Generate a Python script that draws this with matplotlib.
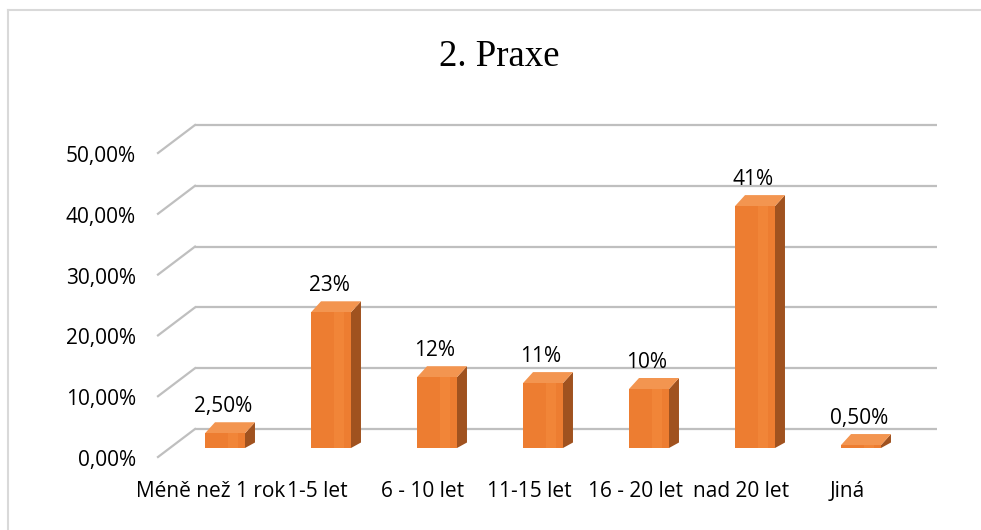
import matplotlib
matplotlib.use("Agg")
import matplotlib.pyplot as plt
from matplotlib.patches import Polygon
from matplotlib.lines import Line2D
from matplotlib.transforms import offset_copy

categories = ["Méně než 1 rok", "1-5 let", "6 - 10 let", "11-15 let",
              "16 - 20 let", "nad 20 let", "Jiná"]
values = [2.5, 23, 12, 11, 10, 41, 0.5]
value_labels = ["2,50%", "23%", "12%", "11%", "10%", "41%", "0,50%"]
ticks = [0, 10, 20, 30, 40, 50]
tick_labels = ["0,00%", "10,00%", "20,00%", "30,00%", "40,00%", "50,00%"]

W, H = 981, 530
front_col = "#ED7D31"
shine_col = "#F18538"
side_col = "#A0521F"
top_col = "#F39550"
grid_col = "#BFBFBF"
lab_font = "Open Sans"

fig = plt.figure(figsize=(W / 100, H / 100), dpi=100)
fig.patch.set_facecolor("white")

# outer chart border (only top/left are visible in the crop)
fig.add_artist(Line2D([8 / W, 1], [1 - 10 / H, 1 - 10 / H], color="#D9D9D9", lw=1.5))
fig.add_artist(Line2D([8 / W, 8 / W], [0, 1 - 10 / H], color="#D9D9D9", lw=1.5))

fig.text(499 / W, 1 - 66 / H, "2. Praxe", family="Liberation Serif",
         fontsize=26.5, ha="center", va="baseline")

# back wall with gridlines
ax = fig.add_axes([195 / W, 1 - 429 / H, 742 / W, 304 / H])
ax.set_xlim(-0.5, 6.5)
ax.set_ylim(0, 50)
ax.axis("off")

def px(a, dx, dy):
    inv = a.transData.inverted()
    p0 = inv.transform((0, 0))
    p1 = inv.transform((dx, dy))
    return p1[0] - p0[0], p1[1] - p0[1]

fdx, fdy = px(ax, -37, -28)
for t, lab in zip(ticks, tick_labels):
    ax.plot([-0.5, 6.5], [t, t], color=grid_col, lw=1.6, clip_on=False, solid_capstyle="butt")
    ax.plot([-0.5, -0.5 + fdx], [t, t + fdy], color=grid_col, lw=1.6, clip_on=False)
    ax.text(-0.5, t, lab, ha="right", va="baseline", fontsize=15, family=lab_font,
            transform=offset_copy(ax.transData, fig, x=-59, y=-37, units="dots"))

cat_tr = offset_copy(ax.transData, fig, x=-37, y=-68, units="dots")
for i, c in enumerate(categories):
    ax.text(i, 0, c, ha="center", va="baseline", fontsize=15, family=lab_font,
            transform=cat_tr)

# bars, drawn in the middle of the depth
axb = fig.add_axes([172 / W, 1 - 448 / H, 742 / W, 295 / H])
axb.set_xlim(-0.5, 6.5)
axb.set_ylim(0, 50)
axb.axis("off")
axb.patch.set_alpha(0)

bw = 0.377
ddx, ddy = px(axb, 10, 11)
xs = list(range(len(categories)))
axb.bar(xs, values, width=bw, color=front_col, zorder=3)
# soft highlight stripe on the front face
axb.bar([x + bw * 0.2 for x in xs], values, width=bw * 0.25, color=shine_col, zorder=3.5)
for x, v in zip(xs, values):
    r = x + bw / 2
    l = x - bw / 2
    axb.add_patch(Polygon([(r, 0), (r, v), (r + ddx, v + ddy), (r + ddx, ddy * 0.5)],
                          closed=True, facecolor=side_col, edgecolor="none", zorder=2))
    axb.add_patch(Polygon([(l, v), (r, v), (r + ddx, v + ddy), (l + ddx, v + ddy)],
                          closed=True, facecolor=top_col, edgecolor="none", zorder=2))

lab_tr = offset_copy(axb.transData, fig, x=-2, y=21, units="dots")
for x, v, lab in zip(xs, values, value_labels):
    axb.text(x, v, lab, ha="center", va="baseline", fontsize=15, family=lab_font,
             transform=lab_tr, zorder=5)

fig.savefig("out.png", dpi=100, facecolor="white")
